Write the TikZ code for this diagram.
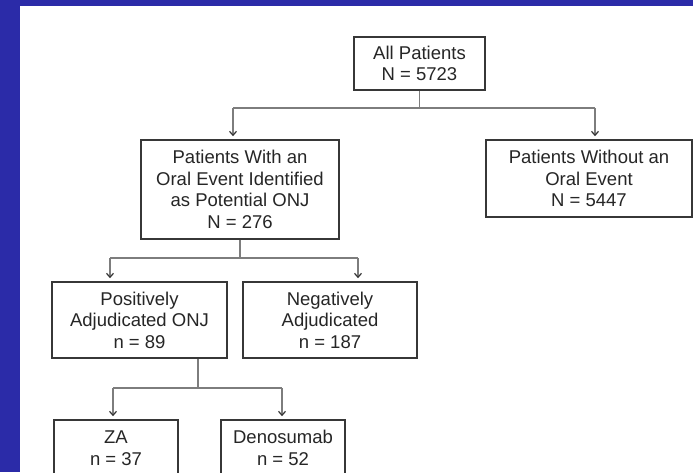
\documentclass[tikz,border=0pt]{standalone}
\usepackage{fontspec}
\setmainfont{Liberation Sans}
\usetikzlibrary{arrows.meta}
\definecolor{slideblue}{RGB}{43,43,168}
\definecolor{boxline}{RGB}{55,55,55}
\definecolor{linkgray}{RGB}{125,125,125}
\begin{document}
\begin{tikzpicture}[x=1pt,y=-1pt,line join=miter]
  \tikzset{box/.style={draw=boxline,line width=1.6pt,fill=white,align=center,inner sep=0pt,text=black!85,font=\fontsize{18.5}{21.5}\selectfont},
    link/.style={draw=linkgray,line width=1.6pt},
    arr/.style={link,-{Straight Barb[length=4pt,width=7pt,line width=1.2pt,color=black!80]},shorten >=3pt}}
  \useasboundingbox (0,0) rectangle (693,472);
  \clip (0,0) rectangle (693,472);
  \fill[slideblue] (0,0) rectangle (693,472);
  \fill[white] (20,6) rectangle (693,472);
  \node[box,minimum width=131pt,minimum height=53pt] (all) at (419.5,63.5) {All Patients\\N = 5723};
  \node[box,minimum width=198pt,minimum height=99pt] (with) at (240,189.5) {Patients With an\\Oral Event Identified\\as Potential ONJ\\N = 276};
  \node[box,minimum width=206pt,minimum height=77pt] (without) at (589,178.5) {Patients Without an\\Oral Event\\N = 5447};
  \node[box,minimum width=175pt,minimum height=76pt] (pos) at (139.5,320) {Positively\\Adjudicated ONJ\\n = 89};
  \node[box,minimum width=174pt,minimum height=76pt] (neg) at (330,320) {Negatively\\Adjudicated\\n = 187};
  \node[box,minimum width=124pt,minimum height=56pt] (za) at (116,448) {ZA\\n = 37};
  \node[box,minimum width=124pt,minimum height=56pt] (deno) at (283,448) {Denosumab\\n = 52};
  \coordinate (a1) at (233,108); \coordinate (a2) at (595,108);
  \draw[link] (all.south) -- (all.south |- a1);
  \draw[link] (a1) -- (a2);
  \draw[arr] (a1) -- (a1 |- with.north);
  \draw[arr] (a2) -- (a2 |- without.north);
  \coordinate (b1) at (110,258); \coordinate (b2) at (358,258);
  \draw[link] (with.south) -- (with.south |- b1);
  \draw[link] (b1) -- (b2);
  \draw[arr] (b1) -- (b1 |- pos.north);
  \draw[arr] (b2) -- (b2 |- neg.north);
  \coordinate (c0) at (198,388); \coordinate (c1) at (113,388); \coordinate (c2) at (282,388);
  \draw[link] (pos.south -| c0) -- (c0);
  \draw[link] (c1) -- (c2);
  \draw[arr] (c1) -- (c1 |- za.north);
  \draw[arr] (c2) -- (c2 |- deno.north);
\end{tikzpicture}
\end{document}
